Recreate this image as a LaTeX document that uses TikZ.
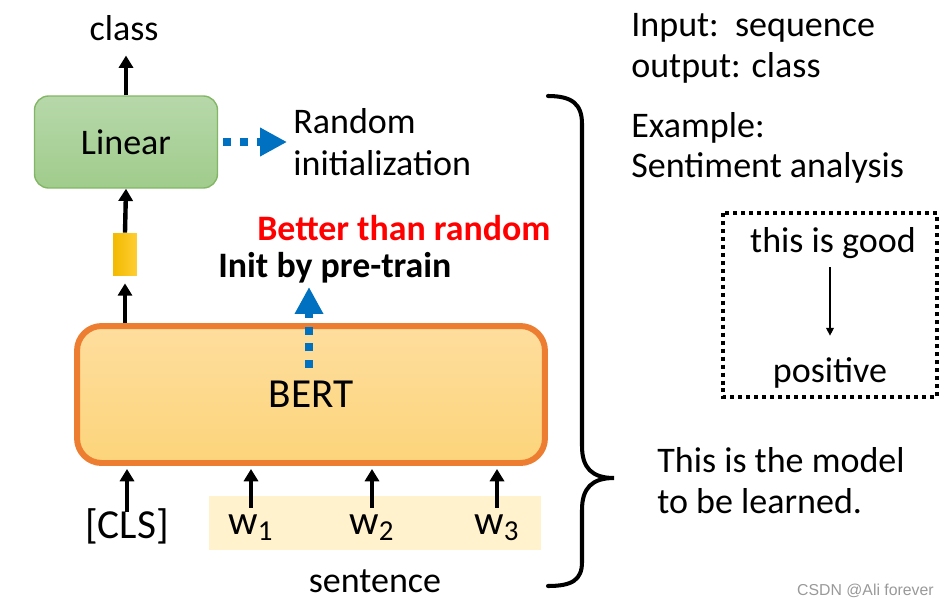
\documentclass[tikz,border=0pt]{standalone}
\usepackage{fontspec}
\setmainfont{Carlito}
\newfontfamily\markfont{Liberation Sans}
\usetikzlibrary{arrows.meta}

\definecolor{EGgreentop}{RGB}{183,216,170}
\definecolor{EGgreenbot}{RGB}{160,204,140}
\definecolor{EGgreenline}{RGB}{130,182,100}
\definecolor{EGorangetop}{RGB}{254,222,158}
\definecolor{EGorangebot}{RGB}{252,212,122}
\definecolor{EGorangeline}{RGB}{237,125,49}
\definecolor{EGgoldleft}{RGB}{242,186,0}
\definecolor{EGgoldright}{RGB}{255,206,52}
\definecolor{EGcream}{RGB}{255,242,204}
\definecolor{EGbluedash}{RGB}{0,112,192}

\begin{document}
\begin{tikzpicture}[x=0.02cm,y=-0.02cm]
% Draw the frame
\useasboundingbox (0,0) rectangle (950,605);
\tikzset{EGtext/.style={inner sep=0pt,font=\fontsize{20.5}{23.8}\selectfont}}
\tikzstyle{EGbold}=          [inner sep=0pt,font=\fontsize{20.4}{24}\selectfont\bfseries]
\tikzstyle{EGbig}=           [inner sep=0pt,font=\fontsize{23.5}{28}\selectfont]
\tikzstyle{EGtoken}=         [EGbig,text height=0.52cm,anchor=base]
\tikzstyle{EGarrow}=         [line width=2.5pt,-{Triangle[length=7pt,width=8pt]}]
\tikzstyle{EGthinarrow}=     [line width=0.6pt,-{Triangle[length=4.5pt,width=4.5pt]}]
\tikzstyle{EGblue}=          [line width=4.8pt,color=EGbluedash,dash pattern=on 4.5pt off 5pt,-{Triangle[length=15.3pt,width=15.3pt]}]
\tikzstyle{EGdensely dotted}=[line width=2.27pt,dash pattern=on 2.27pt off 2.27pt]

% the boxes
\node[EGtext,draw=EGgreenline,line width=0.8pt,rounded corners=8pt,top color=EGgreentop,bottom color=EGgreenbot,
      minimum width=3.66cm,minimum height=1.84cm] (linear) at (126,142) {Linear};
\node[EGbig,draw=EGorangeline,line width=3.4pt,rounded corners=14pt,top color=EGorangetop,bottom color=EGorangebot,
      minimum width=9.36cm,minimum height=2.74cm] (bert) at (311,394.5) {BERT};
\node[inner sep=0pt,left color=EGgoldleft,right color=EGgoldright,minimum width=0.48cm,minimum height=0.86cm] (vec) at (125,254.5) {};
\node[inner sep=0pt,fill=EGcream,minimum width=6.64cm,minimum height=1.08cm] (sentbox) at (375,523) {};

% the texts
\node[EGtext,anchor=base] (class) at (124,40) {class};
\node[EGtext,anchor=west,align=left] (random) at (293,142) {Random\\initialization};
\node[EGbold,anchor=base west,text=red] (better) at (257,240) {Better than random};
\node[EGbold,anchor=base west] (init) at (218,277) {Init by pre-train};
\node[EGtext,anchor=base] (sentence) at (375,592) {sentence};

% the tokens
\node[EGtoken] (cls) at (127,538) {[CLS]};
\foreach \i/\x in {1/251,2/372,3/497} {
\node[EGtoken] (w\i) at (\x,534) {w\textsubscript{\i}};
}

% the arrows
\draw[EGarrow] (linear.north) -- (linear.north |- class.south) [shorten >=8.5pt];
\draw[EGarrow] (vec.north) -- (linear.south);
\draw[EGarrow,shorten >=4pt] (bert.north -| vec.south) -- (vec.south);
\foreach \n in {cls,w1,w2,w3} {
\draw[EGarrow,shorten >=1.7pt] (\n.north) -- (\n.north |- bert.south);
}
\draw[EGblue,shorten <=3pt,shorten >=3.4pt] (linear.east) -- (linear.east -| random.west);
\coordinate (bertin) at (309,368);
\draw[EGblue,shorten >=2.3pt] (bertin) -- (bertin |- init.south);

% the brace
\draw[line width=2.3pt,line cap=round] (548,96) .. controls (572,96) and (582,104) .. (582,124) -- (582,446)
      .. controls (582,468) and (592,478) .. (614,478) .. controls (592,478) and (582,488) .. (582,510)
      -- (582,562) .. controls (582,580) and (572,586) .. (548,586);

% the right side
\node[EGtext,anchor=base west] (input) at (631,36) {Input:\ \ sequence};
\node[EGtext,anchor=base west] (output) at (631,77) {output: class};
\node[EGtext,anchor=base west] (example) at (631,137) {Example:};
\node[EGtext,anchor=base west] (task) at (631,177) {Sentiment analysis};
\draw[EGdensely dotted] (723,213) rectangle (937,397);
\node[EGtext,anchor=base] (good) at (833,252) {this is good};
\node[EGtext,anchor=base] (positive) at (830,382) {positive};
\draw[EGthinarrow,shorten <=5pt,shorten >=12pt] (positive.north |- good.south) -- (positive.north);
\node[EGtext,anchor=base west] (model) at (657,472) {This is the model};
\node[EGtext,anchor=base west] (learned) at (657,513) {to be learned.};

% the mark
\node[anchor=base east,inner sep=0pt,text=black!40,font=\markfont\fontsize{9}{10}\selectfont] (mark) at (934,595) {CSDN @Ali forever};
\end{tikzpicture}
\end{document}
